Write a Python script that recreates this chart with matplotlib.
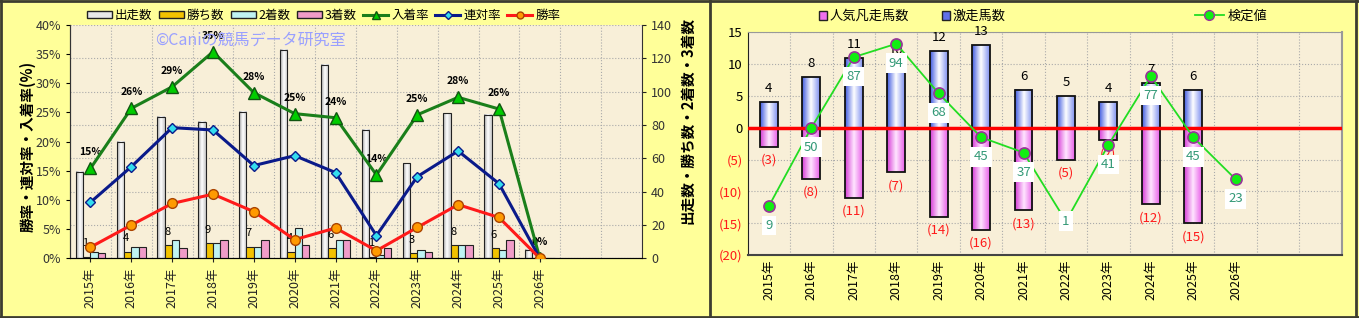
import numpy as np
import matplotlib
matplotlib.use('Agg')
import matplotlib.pyplot as plt
from matplotlib.patches import Patch
from matplotlib.lines import Line2D
from matplotlib.colors import LinearSegmentedColormap

plt.rcParams['font.family'] = ['Noto Sans CJK JP', 'DejaVu Sans']

# ---- data ----
years = ['2015年', '2016年', '2017年', '2018年', '2019年', '2020年',
         '2021年', '2022年', '2023年', '2024年', '2025年', '2026年']
runs = [52, 70, 85, 82, 88, 125, 116, 77, 57, 87, 86, 5]
wins = [1, 4, 8, 9, 7, 4, 6, 1, 3, 8, 6, 0]
seconds = [4, 7, 11, 9, 7, 18, 11, 2, 5, 8, 5, 0]
thirds = [3, 7, 6, 11, 11, 8, 11, 6, 4, 8, 11, 0]
win_rate = [1.9, 5.7, 9.4, 11.0, 8.0, 3.2, 5.2, 1.3, 5.3, 9.2, 7.0, 0]
rentai_rate = [9.6, 15.7, 22.4, 22.0, 15.9, 17.6, 14.7, 3.9, 14.0, 18.4, 12.8, 0]
place_rate = [15.4, 25.7, 29.4, 35.4, 28.4, 24.8, 24.1, 14.3, 24.6, 27.6, 25.6, 0]

gekisou = [4, 8, 11, 10, 12, 13, 6, 5, 4, 7, 6]          # 激走馬数
bonsou = [3, 8, 11, 7, 14, 16, 13, 5, 2, 12, 15]          # 人気凡走馬数
kentei = [9, 50, 87, 94, 68, 45, 37, 1, 41, 77, 45, 23]   # 検定値

n_slots = 14
x = np.arange(len(years))
BG = '#FFFF99'
PLOT_BG = '#F8EFD8'


def grad_bars(ax, bars, colors):
    cmap = LinearSegmentedColormap.from_list('g', colors)
    grad = np.linspace(0, 1, 64).reshape(1, -1)
    for b in bars:
        bx, by = b.get_xy()
        w, h = b.get_width(), b.get_height()
        if h == 0:
            continue
        ax.imshow(grad, cmap=cmap, extent=(bx, bx + w, by, by + h),
                  aspect='auto', zorder=2.5, interpolation='bilinear')


fig = plt.figure(figsize=(13.59, 3.18), dpi=100, facecolor=BG)

# ================= left chart =================
ax = fig.add_axes([0.0515, 0.1877, 0.4209, 0.7337])
ax.set_facecolor(PLOT_BG)
axr = ax.twinx()   # rates (left scale), drawn above the bars

w = 0.18
b_runs = ax.bar(x - 1.5 * w, runs, w, facecolor='none', edgecolor='#222222', lw=0.8, zorder=3)
grad_bars(ax, b_runs, ['#A8A8A8', '#FFFFFF', '#C8C8C8'])
ax.bar(x - 0.5 * w, wins, w, color='#F2C200', edgecolor='#222222', lw=0.8, zorder=3)
ax.bar(x + 0.5 * w, seconds, w, color='#BFF3F3', edgecolor='#222222', lw=0.8, zorder=3)
ax.bar(x + 1.5 * w, thirds, w, color='#F09CC8', edgecolor='#222222', lw=0.8, zorder=3)
for i, v in enumerate(wins):
    if v:
        ax.annotate(str(v), (x[i] - 0.5 * w, v), xytext=(-1, 6), textcoords='offset points',
                    ha='center', va='bottom', fontsize=8, zorder=5)
ax.set_xlim(-0.5, n_slots - 0.5)
ax.set_ylim(0, 140)
ax.set_yticks(range(0, 141, 20))
ax.grid(axis='y', color='#AAAAAA', ls=':', lw=0.8, zorder=0)
for k in range(n_slots - 1):
    ax.axvline(k + 0.5, color='#AAAAAA', ls=':', lw=0.8, zorder=0)
ax.set_xticks(x)
ax.set_xticklabels(years, rotation=90, fontsize=9)
ax.tick_params(axis='both', length=3, colors='#222222', labelsize=9)
ax.tick_params(axis='y', labelcolor='#333333')
ax.yaxis.tick_right()
ax.spines['top'].set_visible(False)
for s in ['left', 'right', 'bottom']:
    ax.spines[s].set_color('#333333')

axr.plot(x, place_rate, color='#1A7F1A', lw=2.2, marker='^', ms=9,
         mfc='#00CC00', mec='#115511', zorder=4)
axr.plot(x, rentai_rate, color='#0A1A8A', lw=2.2, marker='D', ms=5.5,
         mfc='#33DDEE', mec='#0A1A8A', zorder=4)
axr.plot(x, win_rate, color='#FF1A1A', lw=2.2, marker='o', ms=7,
         mfc='#FF9A00', mec='#AA4400', zorder=4)
for i, v in enumerate(place_rate):
    axr.annotate(f'{v:.0f}%', (x[i], v), xytext=(0, 8), textcoords='offset points',
                 ha='center', va='bottom', fontsize=7.5, fontweight='bold')
axr.set_ylim(0, 40)
axr.set_yticks(range(0, 41, 5))
axr.set_yticklabels([f'{t}%' for t in range(0, 41, 5)])
axr.yaxis.tick_left()
axr.tick_params(axis='y', length=3, labelsize=9, labelcolor='#333333')
axr.spines['top'].set_visible(False)
axr.spines['right'].set_visible(False)
axr.spines['left'].set_color('#333333')

fig.text(0.02, 0.54, '勝率・連対率・入着率(%)', rotation=90, ha='center', va='center',
         fontsize=10.5, fontweight='bold')
fig.text(0.506, 0.62, '出走数・勝ち数・2着数・3着数', rotation=90, ha='center', va='center',
         fontsize=10.5, fontweight='bold')
fig.text(0.184, 0.875, '©Caniの競馬データ研究室', ha='center', va='center',
         fontsize=11.5, color='#9AA0FF')

h_left = [
    Patch(facecolor='#E8E8E8', edgecolor='#222222', label='出走数'),
    Patch(facecolor='#F2C200', edgecolor='#222222', label='勝ち数'),
    Patch(facecolor='#BFF3F3', edgecolor='#222222', label='2着数'),
    Patch(facecolor='#F09CC8', edgecolor='#222222', label='3着数'),
    Line2D([], [], color='#1A7F1A', lw=2.2, marker='^', ms=6, mfc='#00CC00', mec='#115511', label='入着率'),
    Line2D([], [], color='#0A1A8A', lw=2.2, marker='D', ms=4, mfc='#33DDEE', mec='#0A1A8A', label='連対率'),
    Line2D([], [], color='#FF1A1A', lw=2.2, marker='o', ms=5, mfc='#FF9A00', mec='#AA4400', label='勝率'),
]
fig.legend(handles=h_left, loc='center', bbox_to_anchor=(0.238, 0.952), ncol=7, frameon=False,
           fontsize=9, handlelength=2.0, handleheight=0.5, columnspacing=0.5, handletextpad=0.25)

# ================= right chart =================
bx = fig.add_axes([0.5502, 0.1981, 0.4371, 0.7003])
bx.set_facecolor(PLOT_BG)
bk = bx.twinx()   # 検定値 scale, hidden

xr = np.arange(len(gekisou))
bw = 0.42
b_up = bx.bar(xr, gekisou, bw, facecolor='none', edgecolor='#111111', lw=1.3, zorder=3)
grad_bars(bx, b_up, ['#3F5AE0', '#FFFFFF', '#7F90F0'])
b_dn = bx.bar(xr, [-v for v in bonsou], bw, facecolor='none', edgecolor='#111111', lw=1.3, zorder=3)
grad_bars(bx, b_dn, ['#D63CD6', '#FFE6FF', '#E860E8'])
for i, v in enumerate(gekisou):
    bx.annotate(str(v), (xr[i], v), xytext=(0, 5), textcoords='offset points',
                ha='center', va='bottom', fontsize=9.5, zorder=6)
for i, v in enumerate(bonsou):
    bx.annotate(f'({v})', (xr[i], -v), xytext=(0, -5), textcoords='offset points',
                ha='center', va='top', fontsize=9.5, color='#FF1A1A', zorder=4)
bx.axhline(0, color='#FF0000', lw=2.5, zorder=4)
bx.set_xlim(-0.5, n_slots - 0.5)
bx.set_ylim(-20, 15)
bx.set_yticks(range(-20, 16, 5))
bx.set_yticklabels([f'({-t})' if t < 0 else str(t) for t in range(-20, 16, 5)])
for t in bx.get_yticklabels():
    if t.get_text().startswith('('):
        t.set_color('#FF1A1A')
bx.grid(axis='y', color='#AAAAAA', ls=':', lw=0.8, zorder=0)
for k in range(n_slots - 1):
    bx.axvline(k + 0.5, color='#AAAAAA', ls=':', lw=0.8, zorder=0)
bx.set_xticks(x)
bx.set_xticklabels(years, rotation=90, fontsize=9)
bx.tick_params(axis='both', length=0, labelsize=9.5)
bx.tick_params(axis='x', labelsize=9)
bx.spines['left'].set_color('#222222')
bx.spines['bottom'].set_color('#444444')
bx.spines['top'].set_color('#999999')
bx.spines['right'].set_color('#999999')
bx.spines['right'].set_linewidth(1.5)
bx.spines['bottom'].set_linewidth(1.5)

bk.set_ylim(-50 / 3, 100)
bk.axis('off')
bk.plot(x, kentei, color='#22DD22', lw=1.3, marker='o', ms=8,
        mfc='#11EE11', mec='#993399', mew=1.2, zorder=5)
for i, v in enumerate(kentei):
    off = 0 if v < 5 else -14
    bk.annotate(str(v), (x[i], v), xytext=(0, off), textcoords='offset points',
                ha='center', va='center', fontsize=9.5, color='#339977', zorder=7,
                bbox=dict(boxstyle='square,pad=0.25', fc='white', ec='none'))

h_right = [
    Patch(facecolor='#F070F0', edgecolor='#222222', label='人気凡走馬数'),
    Patch(facecolor='#6070E8', edgecolor='#222222', label='激走馬数'),
]
fig.legend(handles=h_right, loc='center', bbox_to_anchor=(0.671, 0.948), ncol=2, frameon=False,
           fontsize=9.5, handlelength=0.6, handleheight=0.6, columnspacing=2.5, handletextpad=0.2)
fig.legend(handles=[Line2D([], [], color='#22DD22', lw=1.3, marker='o', ms=7, mfc='#11EE11',
                           mec='#993399', label='検定値')],
           loc='center', bbox_to_anchor=(0.906, 0.948), frameon=False, fontsize=9.5,
           handlelength=2.2, handletextpad=0.3)

# panel borders
border = '#3C3C30'
fig.add_artist(Line2D([0.001, 0.001], [0, 1], color=border, lw=2, transform=fig.transFigure))
fig.add_artist(Line2D([0.998, 0.998], [0, 1], color=border, lw=2, transform=fig.transFigure))
fig.add_artist(Line2D([0, 1], [0.004, 0.004], color=border, lw=2, transform=fig.transFigure))
fig.add_artist(Line2D([0, 1], [0.997, 0.997], color=border, lw=2, transform=fig.transFigure))
fig.add_artist(Line2D([0.5224, 0.5224], [0, 1], color=border, lw=2, transform=fig.transFigure))

fig.savefig('out.png', dpi=100, facecolor=BG)
